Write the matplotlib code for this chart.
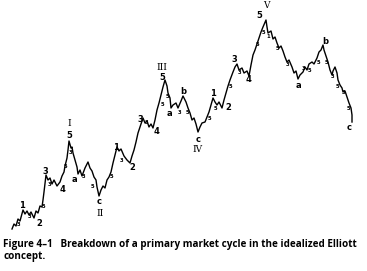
import matplotlib
matplotlib.use("Agg")
import matplotlib.pyplot as plt

# path, in image pixels (y grows downward)
wave_I = [(12, 229), (14, 224), (16, 226), (18, 219), (20, 221), (23, 210), (25, 214), (27, 211),
          (29, 215), (31, 212), (34, 218), (36, 211), (38, 213), (40, 206), (42, 207), (43, 200),
          (44, 192), (45, 183), (46, 175), (48, 180), (50, 178), (52, 184), (54, 180), (57, 186),
          (60, 182), (62, 176), (64, 172), (65, 166), (67, 158), (68, 150), (69, 141)]
wave_II = [(71, 148), (72, 147), (73, 153), (75, 160), (77, 167), (78, 174), (80, 170), (82, 176),
           (85, 168), (88, 162), (90, 168), (92, 171), (94, 177), (96, 180), (97, 187), (99, 196)]
wave_III = [(101, 190), (103, 186), (105, 188), (107, 180), (109, 177), (111, 172), (113, 163),
            (115, 155), (117, 147), (119, 151), (121, 149), (124, 156), (127, 160), (130, 163),
            (132, 156), (134, 150), (136, 142), (138, 133), (140, 127), (142, 121), (143, 118),
            (145, 123), (147, 121), (149, 127), (151, 124), (153, 128), (155, 120), (157, 110),
            (159, 103), (161, 95), (163, 87), (165, 80)]
wave_IV = [(167, 86), (168, 93), (170, 98), (171, 108), (173, 105), (176, 103), (178, 108),
           (181, 101), (183, 96), (186, 102), (188, 108), (190, 113), (192, 120), (194, 118),
           (196, 124), (198, 132)]
wave_V = [(200, 127), (202, 123), (205, 122), (207, 117), (209, 112), (211, 105), (213, 98),
          (215, 102), (217, 105), (219, 102), (222, 108), (224, 100), (226, 93), (228, 86),
          (230, 80), (233, 72), (235, 67), (237, 64), (239, 70), (242, 68), (244, 73), (247, 71),
          (249, 76), (251, 65), (253, 55), (255, 50), (257, 44), (259, 38), (261, 32), (263, 27),
          (266, 20)]
wave_A_B = [(267, 27), (268, 33), (271, 31), (273, 39), (275, 37), (277, 43), (279, 48), (281, 46),
            (283, 51), (285, 57), (287, 62), (289, 60), (292, 67), (294, 73), (296, 71), (298, 79),
            (300, 75), (303, 72), (305, 67), (307, 70), (309, 64), (312, 62), (314, 64), (317, 58),
            (319, 52), (321, 50), (323, 45)]
wave_C = [(324, 50), (326, 56), (328, 62), (330, 70), (332, 75), (333, 71), (335, 67), (337, 73),
          (338, 80), (340, 85), (342, 88), (343, 92), (345, 91), (347, 97), (349, 103), (351, 108),
          (352, 115), (352, 122)]

# wave labels
main_labels = [("1", 22, 206), ("2", 39, 223), ("3", 45, 172), ("4", 62, 189), ("5", 69, 135),
               ("a", 74, 179), ("c", 99, 202),
               ("1", 116, 147), ("2", 132, 168), ("3", 140, 119), ("4", 156, 131), ("5", 162, 78),
               ("a", 169, 113), ("b", 183, 91), ("c", 198, 140),
               ("1", 213, 93), ("2", 228, 108), ("3", 234, 59), ("4", 249, 79), ("5", 259, 16),
               ("a", 298, 86), ("b", 325, 41), ("c", 349, 127)]
roman_labels = [("I", 69, 124), ("II", 100, 213), ("III", 162, 68), ("IV", 198, 150), ("V", 266, 6)]
sub_labels = [("3", 18, 225), ("3", 29, 217), ("5", 43, 207), ("3", 49, 185), ("5", 65, 167),
              ("3", 70, 153), ("3", 83, 177), ("5", 92, 186),
              ("5", 111, 177), ("3", 121, 160), ("3", 146, 123), ("5", 162, 105), ("5", 167, 97),
              ("3", 179, 112), ("5", 187, 112),
              ("5", 209, 118), ("5", 215, 108), ("5", 230, 87), ("3", 239, 72), ("5", 257, 45),
              ("5", 263, 33), ("1", 268, 36), ("5", 277, 49), ("3", 287, 65), ("3", 303, 68),
              ("5", 309, 70), ("5", 318, 63), ("5", 326, 63), ("3", 332, 77), ("5", 337, 86),
              ("3", 343, 93), ("5", 348, 108)]

caption_1 = "Figure 4\u20131   Breakdown of a primary market cycle in the idealized Elliott"
caption_2 = "concept."

fig = plt.figure(figsize=(3.67, 2.71), dpi=100)
ax = fig.add_axes([0, 0, 1, 1])
ax.set_xlim(0, 367)
ax.set_ylim(271, 0)
ax.axis("off")

path = wave_I + wave_II + wave_III + wave_IV + wave_V + wave_A_B + wave_C
xs = [p[0] for p in path]
ys = [p[1] for p in path]
ax.plot(xs, ys, color="black", lw=1.0)

for t, x, y in main_labels:
    ax.text(x, y, t, fontsize=6, fontweight="bold", ha="center", va="center", family="DejaVu Sans")
for t, x, y in roman_labels:
    ax.text(x, y, t, fontsize=6.5, ha="center", va="center", family="DejaVu Serif")
for t, x, y in sub_labels:
    ax.text(x, y, t, fontsize=3.8, fontweight="bold", ha="center", va="center", family="DejaVu Sans")

ax.text(3, 244, caption_1, fontsize=7.1, fontweight="bold", ha="left", va="center", family="Open Sans")
ax.text(3, 256, caption_2, fontsize=7.1, fontweight="bold", ha="left", va="center", family="Open Sans")

fig.savefig("out.png", dpi=100)
